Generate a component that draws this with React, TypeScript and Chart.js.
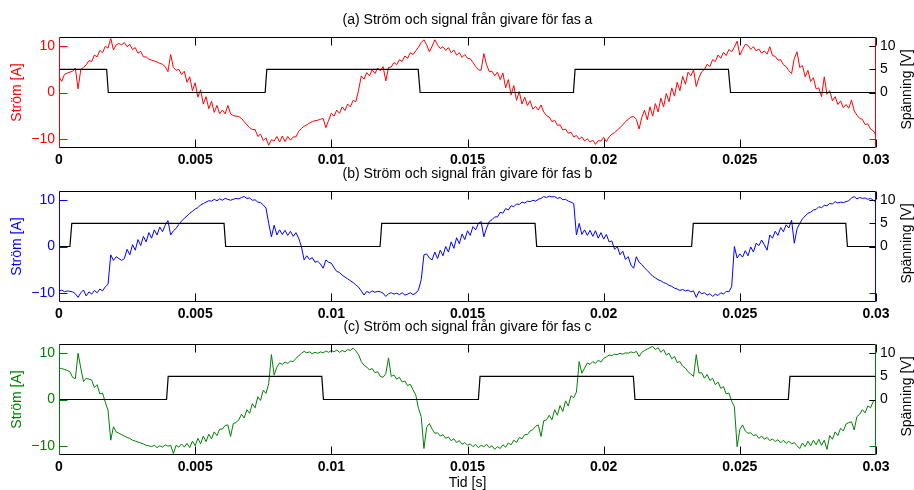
import { useEffect, useRef } from 'react';
import { Chart, registerables } from 'chart.js';

Chart.register(...registerables);

// Phase currents sampled every 0.1 ms from 0 to 30 ms (amperes)
const SAMPLE_STEP_S = 0.0001;

const CURRENT_A = [
  3.4, 2.4, 3.9, 4.2, 4.4, 4.6, 5.3, 0.8, 5.0, 5.4,
  6.0, 6.9, 6.7, 8.1, 7.7, 9.1, 8.6, 10.0, 9.6, 11.7,
  9.2, 10.3, 10.6, 10.3, 10.8, 9.9, 10.4, 9.3, 9.7, 8.5,
  8.9, 7.7, 7.7, 7.2, 7.0, 6.8, 6.6, 6.3, 6.1, 5.6,
  4.5, 8.2, 5.4, 4.8, 5.0, 3.9, 4.6, 2.2, 3.4, 0.4,
  2.1, -1.0, 0.6, -2.5, -0.9, -3.5, -1.9, -4.3, -2.8, -4.6,
  -3.8, -4.6, -2.8, -4.6, -5.0, -5.1, -5.2, -5.6, -6.3, -7.0,
  -7.6, -8.0, -8.0, -9.5, -9.0, -10.4, -9.8, -11.4, -10.2, -10.5,
  -9.5, -10.7, -9.4, -10.6, -9.5, -10.3, -9.6, -9.6, -8.4, -7.8,
  -7.3, -7.0, -6.6, -6.3, -6.1, -6.0, -5.8, -5.6, -7.6, -6.0,
  -4.5, -5.1, -3.8, -4.5, -3.1, -3.9, -2.5, -3.1, -1.7, -2.0,
  0.5, 3.6, 2.9, 4.3, 3.6, 4.9, 4.1, 5.3, 4.7, 5.6,
  2.5, 5.4, 5.5, 6.5, 6.0, 7.1, 6.7, 7.9, 7.4, 8.6,
  8.2, 9.0, 9.8, 10.8, 11.4, 10.3, 8.8, 10.0, 11.4, 10.3,
  9.5, 9.9, 9.1, 9.7, 8.6, 9.2, 8.1, 8.6, 7.6, 8.2,
  7.4, 7.3, 6.5, 5.6, 4.9, 4.8, 8.4, 6.0, 4.5, 4.6,
  3.6, 4.4, 2.8, 4.2, 1.0, 2.8, -0.5, 1.5, -1.7, 0.2,
  -2.5, -1.0, -2.8, -1.8, -3.6, -3.0, -3.8, -2.7, -4.2, -5.0,
  -5.3, -6.3, -6.0, -7.1, -7.0, -8.1, -7.9, -8.8, -8.6, -9.6,
  -9.3, -10.1, -9.6, -10.5, -10.0, -10.7, -10.3, -11.2, -10.4, -10.5,
  -9.7, -10.6, -9.6, -9.0, -8.7, -8.1, -7.6, -7.0, -6.3, -5.8,
  -5.3, -5.2, -5.8, -7.9, -5.4, -3.8, -5.9, -3.1, -5.1, -2.4,
  -4.2, -1.2, -3.1, -0.2, -2.0, 1.0, -0.8, 2.2, 0.4, 3.5,
  1.8, 4.4, 3.6, 4.9, 1.3, 3.2, 4.5, 5.0, 6.1, 5.6,
  7.1, 6.7, 8.1, 7.4, 8.7, 8.0, 9.3, 8.8, 9.8, 11.1,
  8.1, 9.3, 10.4, 10.2, 9.3, 9.9, 9.0, 9.4, 8.5, 9.0,
  8.3, 9.9, 8.0, 7.8, 7.0, 7.1, 6.0, 5.6, 4.7, 4.1,
  7.4, 8.8, 5.4, 5.8, 3.4, 4.8, 2.4, 3.2, 0.8, 1.0,
  -0.9, 3.4, -0.4, 0.4, -1.8, -0.9, -2.6, -1.8, -3.3, -2.6,
  -3.4, -1.6, -4.0, -4.9, -5.6, -5.8, -6.9, -6.8, -7.9, -8.3,
  -9.2,
];

const CURRENT_B = [
  -9.7, -9.4, -9.8, -9.6, -9.7, -9.8, -10.2, -11.0, -10.0, -9.4,
  -10.7, -9.8, -10.3, -9.5, -10.0, -9.2, -9.6, -8.7, -8.2, -1.8,
  -3.0, -2.2, -2.6, -3.0, -2.6, -0.6, -1.8, 0.4, -0.8, 1.5,
  0.2, 2.2, 1.0, 3.0, 1.8, 3.6, 2.5, 4.2, 3.2, 4.6,
  5.6, 2.5, 3.4, 3.9, 4.8, 5.5, 6.1, 6.6, 7.2, 7.6,
  8.1, 8.4, 9.0, 9.3, 9.6, 9.9, 9.8, 10.2, 9.9, 10.3,
  10.0, 10.4, 10.2, 10.0, 10.2, 10.4, 10.3, 10.6, 10.8, 10.4,
  10.5, 10.0, 10.1, 9.6, 9.5, 9.0, 8.3, 5.0, 2.1, 4.6,
  2.5, 3.6, 2.6, 3.5, 2.4, 3.3, 2.2, 3.0, 1.8, 0.0,
  -2.9, -2.0, -2.8, -2.4, -3.4, -3.2, -3.8, -4.7, -2.9, -3.4,
  -3.6, -4.6, -5.4, -5.6, -6.2, -6.6, -7.0, -7.4, -7.8, -8.3,
  -8.8, -9.6, -10.5, -9.7, -10.0, -9.6, -9.9, -9.7, -9.8, -10.1,
  -10.8, -10.2, -10.0, -10.3, -10.1, -10.4, -10.0, -10.5, -10.3, -10.0,
  -10.4, -10.1, -9.4, -7.2, -1.8, -1.6, -2.5, -2.9, -1.2, -2.6,
  -0.8, -2.0, 0.0, -1.2, 1.0, -0.4, 1.9, 0.6, 2.7, 1.5,
  3.4, 2.4, 4.3, 3.6, 5.0, 5.4, 2.1, 4.0, 5.4, 5.8,
  6.4, 6.4, 7.4, 7.2, 8.2, 7.9, 8.8, 8.6, 9.2, 9.1,
  9.6, 9.4, 9.8, 9.7, 10.0, 9.8, 10.2, 10.4, 10.8, 10.6,
  10.9, 10.7, 10.8, 10.4, 10.6, 10.1, 10.2, 9.8, 9.6, 9.3,
  2.5, 5.0, 2.6, 3.6, 2.4, 3.5, 2.2, 3.4, 1.8, 3.0,
  1.6, 2.6, 1.0, 1.2, -0.6, 0.0, -1.8, -1.0, -2.8, -2.2,
  -4.0, -4.7, -2.2, -3.4, -3.9, -4.6, -5.2, -5.8, -6.4, -6.8,
  -7.2, -7.4, -7.8, -8.0, -8.4, -8.6, -9.0, -9.2, -9.5, -9.3,
  -9.6, -9.4, -9.8, -9.6, -11.0, -9.7, -10.2, -10.0, -10.5, -10.2,
  -10.8, -10.3, -10.6, -10.0, -10.3, -9.7, -9.8, -8.7, 0.0, -2.5,
  -1.6, -2.3, -0.9, -2.0, -0.1, -1.2, 0.7, 0.2, 1.4, 0.4,
  -0.8, 2.5, 1.8, 3.3, 2.4, 4.1, 3.2, 4.7, 4.0, 5.7,
  0.7, 3.8, 5.0, 6.0, 6.6, 7.2, 7.4, 7.9, 8.0, 8.6,
  8.4, 8.9, 8.8, 9.3, 9.2, 9.7, 9.4, 9.6, 9.5, 9.7,
  9.9, 10.5, 10.8, 10.3, 10.6, 10.4, 10.5, 10.2, 10.4, 10.0,
  9.6,
];

const CURRENT_C = [
  6.8, 6.7, 6.5, 6.3, 6.0, 4.8, 4.5, 10.0, 6.8, 3.9,
  4.6, 4.4, 4.2, 2.6, 3.2, 1.2, 1.4, -0.6, -2.3, -8.8,
  -5.9, -7.0, -7.3, -7.6, -7.9, -8.2, -8.4, -8.8, -9.0, -9.2,
  -9.4, -9.6, -9.9, -10.0, -10.2, -9.9, -10.4, -10.0, -10.3, -9.8,
  -10.1, -9.9, -11.7, -9.9, -10.3, -9.6, -10.3, -9.5, -10.4, -9.0,
  -10.0, -8.4, -9.6, -7.9, -9.1, -7.5, -8.5, -7.0, -7.8, -6.4,
  -6.4, -5.6, -5.5, -8.0, -5.2, -5.0, -4.4, -3.2, -4.0, -2.2,
  -3.0, -0.9, -1.8, 0.6, -0.2, 2.0, 1.3, 3.4, 9.7, 5.3,
  7.0, 7.9, 7.6, 8.1, 7.8, 8.3, 8.2, 8.9, 9.4, 10.0,
  10.4, 10.1, 10.3, 9.9, 10.2, 10.0, 10.3, 10.1, 10.5, 10.2,
  10.6, 10.3, 10.7, 10.2, 10.6, 10.3, 10.8, 10.6, 11.1, 10.5,
  9.7, 8.2, 7.4, 7.0, 6.4, 6.7, 5.8, 6.0, 5.0, 4.8,
  5.6, 9.0, 5.0, 5.3, 4.4, 4.8, 3.8, 4.0, 3.0, 3.3,
  2.1, 1.0, -1.9, -3.7, -10.6, -6.0, -5.2, -6.4, -7.3, -7.2,
  -7.9, -7.6, -8.4, -8.1, -8.9, -8.5, -9.3, -8.9, -9.7, -9.3,
  -9.9, -9.6, -10.2, -9.7, -10.4, -9.9, -10.2, -9.7, -10.4, -10.0,
  -10.8, -10.2, -10.6, -9.8, -10.3, -9.4, -9.8, -8.8, -9.3, -8.2,
  -8.5, -7.6, -7.6, -6.8, -6.5, -5.8, -5.5, -8.0, -4.6, -4.4,
  -3.4, -4.4, -2.2, -3.4, -1.3, -2.6, -0.3, -1.4, 0.8, 0.4,
  1.6, 8.2, 5.7, 6.8, 7.9, 7.6, 8.2, 7.8, 8.5, 8.1,
  8.9, 9.2, 9.6, 9.5, 9.8, 9.7, 10.0, 9.8, 10.1, 10.0,
  10.3, 10.1, 10.4, 9.3, 10.2, 10.6, 10.9, 11.2, 11.5, 10.8,
  11.2, 10.2, 10.8, 9.6, 10.0, 8.8, 9.3, 8.0, 8.2, 7.2,
  6.8, 6.0, 5.5, 5.0, 9.7, 5.7, 5.8, 4.6, 5.4, 4.1,
  4.6, 3.2, 3.8, 2.4, 2.8, 1.2, 1.4, -0.4, -1.5, -10.2,
  -6.5, -5.5, -6.8, -7.3, -7.2, -7.8, -7.6, -8.4, -7.9, -8.6,
  -8.2, -8.9, -8.5, -9.1, -8.7, -9.4, -8.8, -9.5, -9.0, -9.6,
  -9.3, -10.0, -10.6, -9.4, -10.2, -9.0, -10.0, -8.8, -9.8, -8.6,
  -9.9, -8.8, -10.8, -7.8, -8.6, -7.0, -7.8, -6.2, -6.8, -5.3,
  -5.0, -4.8, -6.6, -3.7, -3.2, -2.2, -2.9, -1.4, -1.8, -0.4,
  -0.1,
];

// Hall sensor outputs, corner points [time s, volts]
const SIGNAL_A = [
  [0, 5], [0.00175, 5], [0.00181, 0], [0.00757, 0], [0.00763, 5],
  [0.01319, 5], [0.01326, 0], [0.01889, 0], [0.01895, 5],
  [0.02458, 5], [0.02466, 0], [0.03, 0],
];
const SIGNAL_B = [
  [0, 0], [0.0004, 0], [0.00047, 5], [0.00606, 5], [0.00612, 0],
  [0.01179, 0], [0.01185, 5], [0.01748, 5], [0.01754, 0],
  [0.02323, 0], [0.02329, 5], [0.02889, 5], [0.02895, 0], [0.03, 0],
];
const SIGNAL_C = [
  [0, 0], [0.00395, 0], [0.00401, 5], [0.00965, 5], [0.00971, 0],
  [0.0154, 0], [0.01546, 5], [0.02109, 5], [0.02115, 0],
  [0.02678, 0], [0.02684, 5], [0.03, 5],
];

const X_TICKS = [0, 0.005, 0.01, 0.015, 0.02, 0.025, 0.03];
const X_TICK_LABELS = ['0', '0.005', '0.01', '0.015', '0.02', '0.025', '0.03'];
const LEFT_TICKS = [-10, 0, 10];
const LEFT_TICK_LABELS = ['\u221210', '0', '10'];
const RIGHT_TICKS = [0, 5, 10];
const RIGHT_TICK_LABELS = ['0', '5', '10'];

const TITLES = [
  '(a) Ström och signal från givare för fas a',
  '(b) Ström och signal från givare för fas b',
  '(c) Ström och signal från givare för fas c',
];
const COLORS = ['#ff0000', '#0000ff', '#008000'];
const CURRENTS = [CURRENT_A, CURRENT_B, CURRENT_C];
const SIGNALS = [SIGNAL_A, SIGNAL_B, SIGNAL_C];

const LEFT_TITLE = 'Ström [A]';
const RIGHT_TITLE = 'Spänning [V]';
const X_TITLE = 'Tid [s]';

const FONT = '"Liberation Sans", Arial, Helvetica, sans-serif';
const WIDTH = 914;
const CANVAS_H = 183;
const AREA_TOP = 37;
const AREA_BOTTOM = 148;
const AREA_LEFT = 59;
const AREA_RIGHT = 876;
const PANEL_TOPS = [0, 154, 307];

type PanelProps = {
  index: number;
  top: number;
  showXTitle: boolean;
};

function Panel({ index, top, showXTitle }: PanelProps) {
  const ref = useRef<HTMLCanvasElement | null>(null);

  useEffect(() => {
    const canvas = ref.current;
    if (!canvas) return;
    const color = COLORS[index];

    const frame = {
      id: 'frame' + index,
      afterDraw(chart: any) {
        const { ctx, chartArea: a, scales } = chart;
        const L = Math.round(a.left) + 0.5;
        const R = Math.round(a.right) - 0.5;
        const T = Math.round(a.top) + 0.5;
        const B = Math.round(a.bottom) - 0.5;
        ctx.save();
        ctx.lineWidth = 1;

        // top and bottom box edges
        ctx.strokeStyle = '#000';
        ctx.beginPath();
        ctx.moveTo(L, T); ctx.lineTo(R, T);
        ctx.moveTo(L, B); ctx.lineTo(R, B);
        ctx.stroke();

        // inward x ticks on both edges
        ctx.beginPath();
        X_TICKS.forEach((v) => {
          const px = Math.round(scales.x.getPixelForValue(v)) + 0.5;
          ctx.moveTo(px, B); ctx.lineTo(px, B - 8);
          ctx.moveTo(px, T); ctx.lineTo(px, T + 8);
        });
        ctx.stroke();

        // coloured left and right spines with the current axis ticks
        ctx.strokeStyle = color;
        ctx.beginPath();
        ctx.moveTo(L, T); ctx.lineTo(L, B);
        ctx.moveTo(R, T); ctx.lineTo(R, B);
        LEFT_TICKS.forEach((v) => {
          const py = Math.round(scales.yL.getPixelForValue(v)) + 0.5;
          ctx.moveTo(L, py); ctx.lineTo(L + 8, py);
          ctx.moveTo(R, py); ctx.lineTo(R - 6, py);
        });
        ctx.stroke();

        // voltage axis ticks
        ctx.strokeStyle = '#000';
        ctx.beginPath();
        RIGHT_TICKS.forEach((v) => {
          const py = Math.round(scales.yR.getPixelForValue(v)) + 0.5;
          ctx.moveTo(R, py); ctx.lineTo(R - 6, py);
        });
        ctx.stroke();

        // titles
        const midY = (a.top + a.bottom) / 2;
        ctx.font = '14px ' + FONT;
        ctx.textAlign = 'center';
        ctx.textBaseline = 'middle';
        ctx.fillStyle = '#000';
        ctx.fillText(TITLES[index], (a.left + a.right) / 2, a.top - 16.5);

        ctx.save();
        ctx.translate(17.5, midY);
        ctx.rotate(-Math.PI / 2);
        ctx.fillStyle = color;
        ctx.fillText(LEFT_TITLE, 0, 0);
        ctx.restore();

        ctx.save();
        ctx.translate(907, midY - 3);
        ctx.rotate(-Math.PI / 2);
        ctx.fillStyle = '#000';
        ctx.fillText(RIGHT_TITLE, 0, 0);
        ctx.restore();

        if (showXTitle) {
          ctx.fillStyle = '#000';
          ctx.fillText(X_TITLE, (a.left + a.right) / 2, a.bottom + 28);
        }
        ctx.restore();
      },
    };

    const chart = new Chart(canvas, {
      type: 'line',
      data: {
        datasets: [
          {
            data: SIGNALS[index].map(([t, v]) => ({ x: t, y: v })),
            yAxisID: 'yR',
            borderColor: '#000',
            borderWidth: 1.2,
            pointRadius: 0,
            tension: 0,
          },
          {
            data: CURRENTS[index].map((v, i) => ({ x: i * SAMPLE_STEP_S, y: v })),
            yAxisID: 'yL',
            borderColor: color,
            borderWidth: 1,
            pointRadius: 0,
            tension: 0,
          },
        ],
      },
      options: {
        responsive: false,
        animation: false,
        devicePixelRatio: 1,
        parsing: false,
        layout: { padding: { top: AREA_TOP, left: 0, right: 0, bottom: 0 } },
        plugins: {
          legend: { display: false },
          tooltip: { enabled: false },
          title: { display: false },
        },
        scales: {
          x: {
            type: 'linear',
            min: 0,
            max: 0.03,
            grid: { display: false, drawTicks: false },
            border: { display: false },
            afterBuildTicks: (s: any) => { s.ticks = X_TICKS.map((v) => ({ value: v })); },
            afterFit: (s: any) => { s.height = CANVAS_H - AREA_BOTTOM; },
            ticks: {
              autoSkip: false,
              maxRotation: 0,
              minRotation: 0,
              padding: 4,
              color: '#000',
              font: { family: FONT, size: 14, weight: 'bold' },
              callback: (_v: any, i: number) => X_TICK_LABELS[i],
            },
          },
          yL: {
            type: 'linear',
            position: 'left',
            min: -12,
            max: 12,
            grid: { display: false, drawTicks: false },
            border: { display: false },
            afterBuildTicks: (s: any) => { s.ticks = LEFT_TICKS.map((v) => ({ value: v })); },
            afterFit: (s: any) => { s.width = AREA_LEFT; },
            ticks: {
              padding: 4,
              color,
              font: { family: FONT, size: 14 },
              callback: (_v: any, i: number) => LEFT_TICK_LABELS[i],
            },
          },
          yR: {
            type: 'linear',
            position: 'right',
            min: -12,
            max: 12,
            grid: { display: false, drawTicks: false },
            border: { display: false },
            afterBuildTicks: (s: any) => { s.ticks = RIGHT_TICKS.map((v) => ({ value: v })); },
            afterFit: (s: any) => { s.width = WIDTH - AREA_RIGHT; },
            ticks: {
              padding: 4,
              color: '#000',
              font: { family: FONT, size: 14 },
              callback: (_v: any, i: number) => RIGHT_TICK_LABELS[i],
            },
          },
        },
      } as any,
      plugins: [frame],
    });

    return () => chart.destroy();
  }, [index, showXTitle]);

  return (
    <canvas
      ref={ref}
      width={WIDTH}
      height={CANVAS_H}
      style={{ position: 'absolute', left: 0, top, width: WIDTH, height: CANVAS_H, display: 'block' }}
    />
  );
}

export default function App() {
  return (
    <div style={{ position: 'absolute', left: 0, top: 0, width: WIDTH, height: 490, background: '#fff', overflow: 'hidden' }}>
      {PANEL_TOPS.map((t, i) => (
        <Panel key={i} index={i} top={t} showXTitle={i === 2} />
      ))}
    </div>
  );
}
